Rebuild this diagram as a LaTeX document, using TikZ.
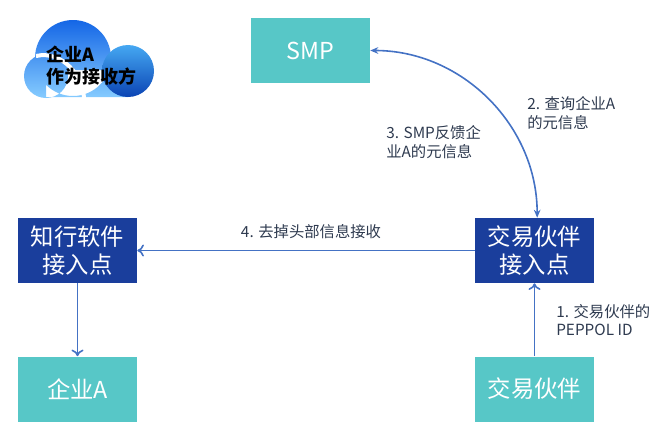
\documentclass[tikz,border=0pt]{standalone}
\usepackage{fontspec}
\setmainfont{Noto Sans CJK SC}
\usetikzlibrary{arrows.meta}

\definecolor{tealbox}{HTML}{57C7C7}
\definecolor{navybox}{HTML}{1A3E9C}
\definecolor{linkblue}{HTML}{4472C4}
\definecolor{labelgrey}{HTML}{2E3A4F}
\definecolor{cloudtop}{HTML}{1466E6}
\definecolor{cloudbot}{HTML}{86CCFF}
\definecolor{cloudlt}{HTML}{45A8F2}
\definecolor{clouddk}{HTML}{0B44B4}

\tikzset{
  tealnode/.style={fill=tealbox,text=white,minimum width=89.25pt,minimum height=48.75pt,inner sep=0pt,font=\fontsize{17.5}{21}\selectfont,align=center},
  navynode/.style={fill=navybox,text=white,minimum width=89.25pt,minimum height=48.75pt,inner sep=0pt,font=\fontsize{17.5}{21}\selectfont,align=center},
  link/.style={draw=linkblue,line width=1.2pt},
  steplabel/.style={text=labelgrey,font=\fontsize{11.5}{14}\selectfont,align=left,inner sep=0pt}
}

\begin{document}
\begin{tikzpicture}[x=0.75pt,y=0.75pt,yscale=-1,xscale=1]
\useasboundingbox (0,0) rectangle (666,433);

%Shape: Cloud
\shade[top color=cloudtop,bottom color=cloudbot] (73,58) circle (38) (46,76) circle (22) (46,70) rectangle (128,97);
\shade[top color=cloudlt,bottom color=clouddk] (128,71) circle (26);
\draw[white,line width=3pt] (36,56) .. controls (62,50) and (84,76) .. (84,100);
\node[anchor=west,font=\bfseries\fontsize{13.5}{16.5}\selectfont,align=left,inner sep=0pt] (cloudtext) at (46,66) {企业A\\作为接收方};

%Boxes
\node[tealnode] (smp) at (310.5,50.5) {SMP};
\node[navynode] (zxap) at (77.5,250.5) {知行软件\\接入点};
\node[navynode] (jyap) at (534.5,250.5) {交易伙伴\\接入点};
\node[tealnode] (qya) at (77.5,389) {企业A};
\node[tealnode] (jyhb) at (534.5,389) {交易伙伴};

%Connectors
\draw[link,{Stealth[length=6pt,width=5pt]}-{Stealth[length=6pt,width=5pt]}] (smp.east) .. controls +(92,0) and +(0,-92) .. ([xshift=2]jyap.north);
\draw[link,-{To[length=5pt,width=9pt]}] (jyap.west) -- (zxap.east);
\draw[link,-{To[length=5pt,width=9pt]}] (zxap.south) -- (qya.north);
\draw[link,-{To[length=5pt,width=9pt]}] (jyhb.north) -- (jyap.south);

%Labels
\node[steplabel,anchor=west] (lbl1) at (556,320) {1. 交易伙伴的\\PEPPOL ID};
\node[steplabel,anchor=west] (lbl2) at (527,113) {2. 查询企业A\\的元信息};
\node[steplabel,anchor=west] (lbl3) at (386,142) {3. SMP反馈企\\业A的元信息};
\node[steplabel] (lbl4) at (311,232) {4. 去掉头部信息接收};

\end{tikzpicture}
\end{document}
